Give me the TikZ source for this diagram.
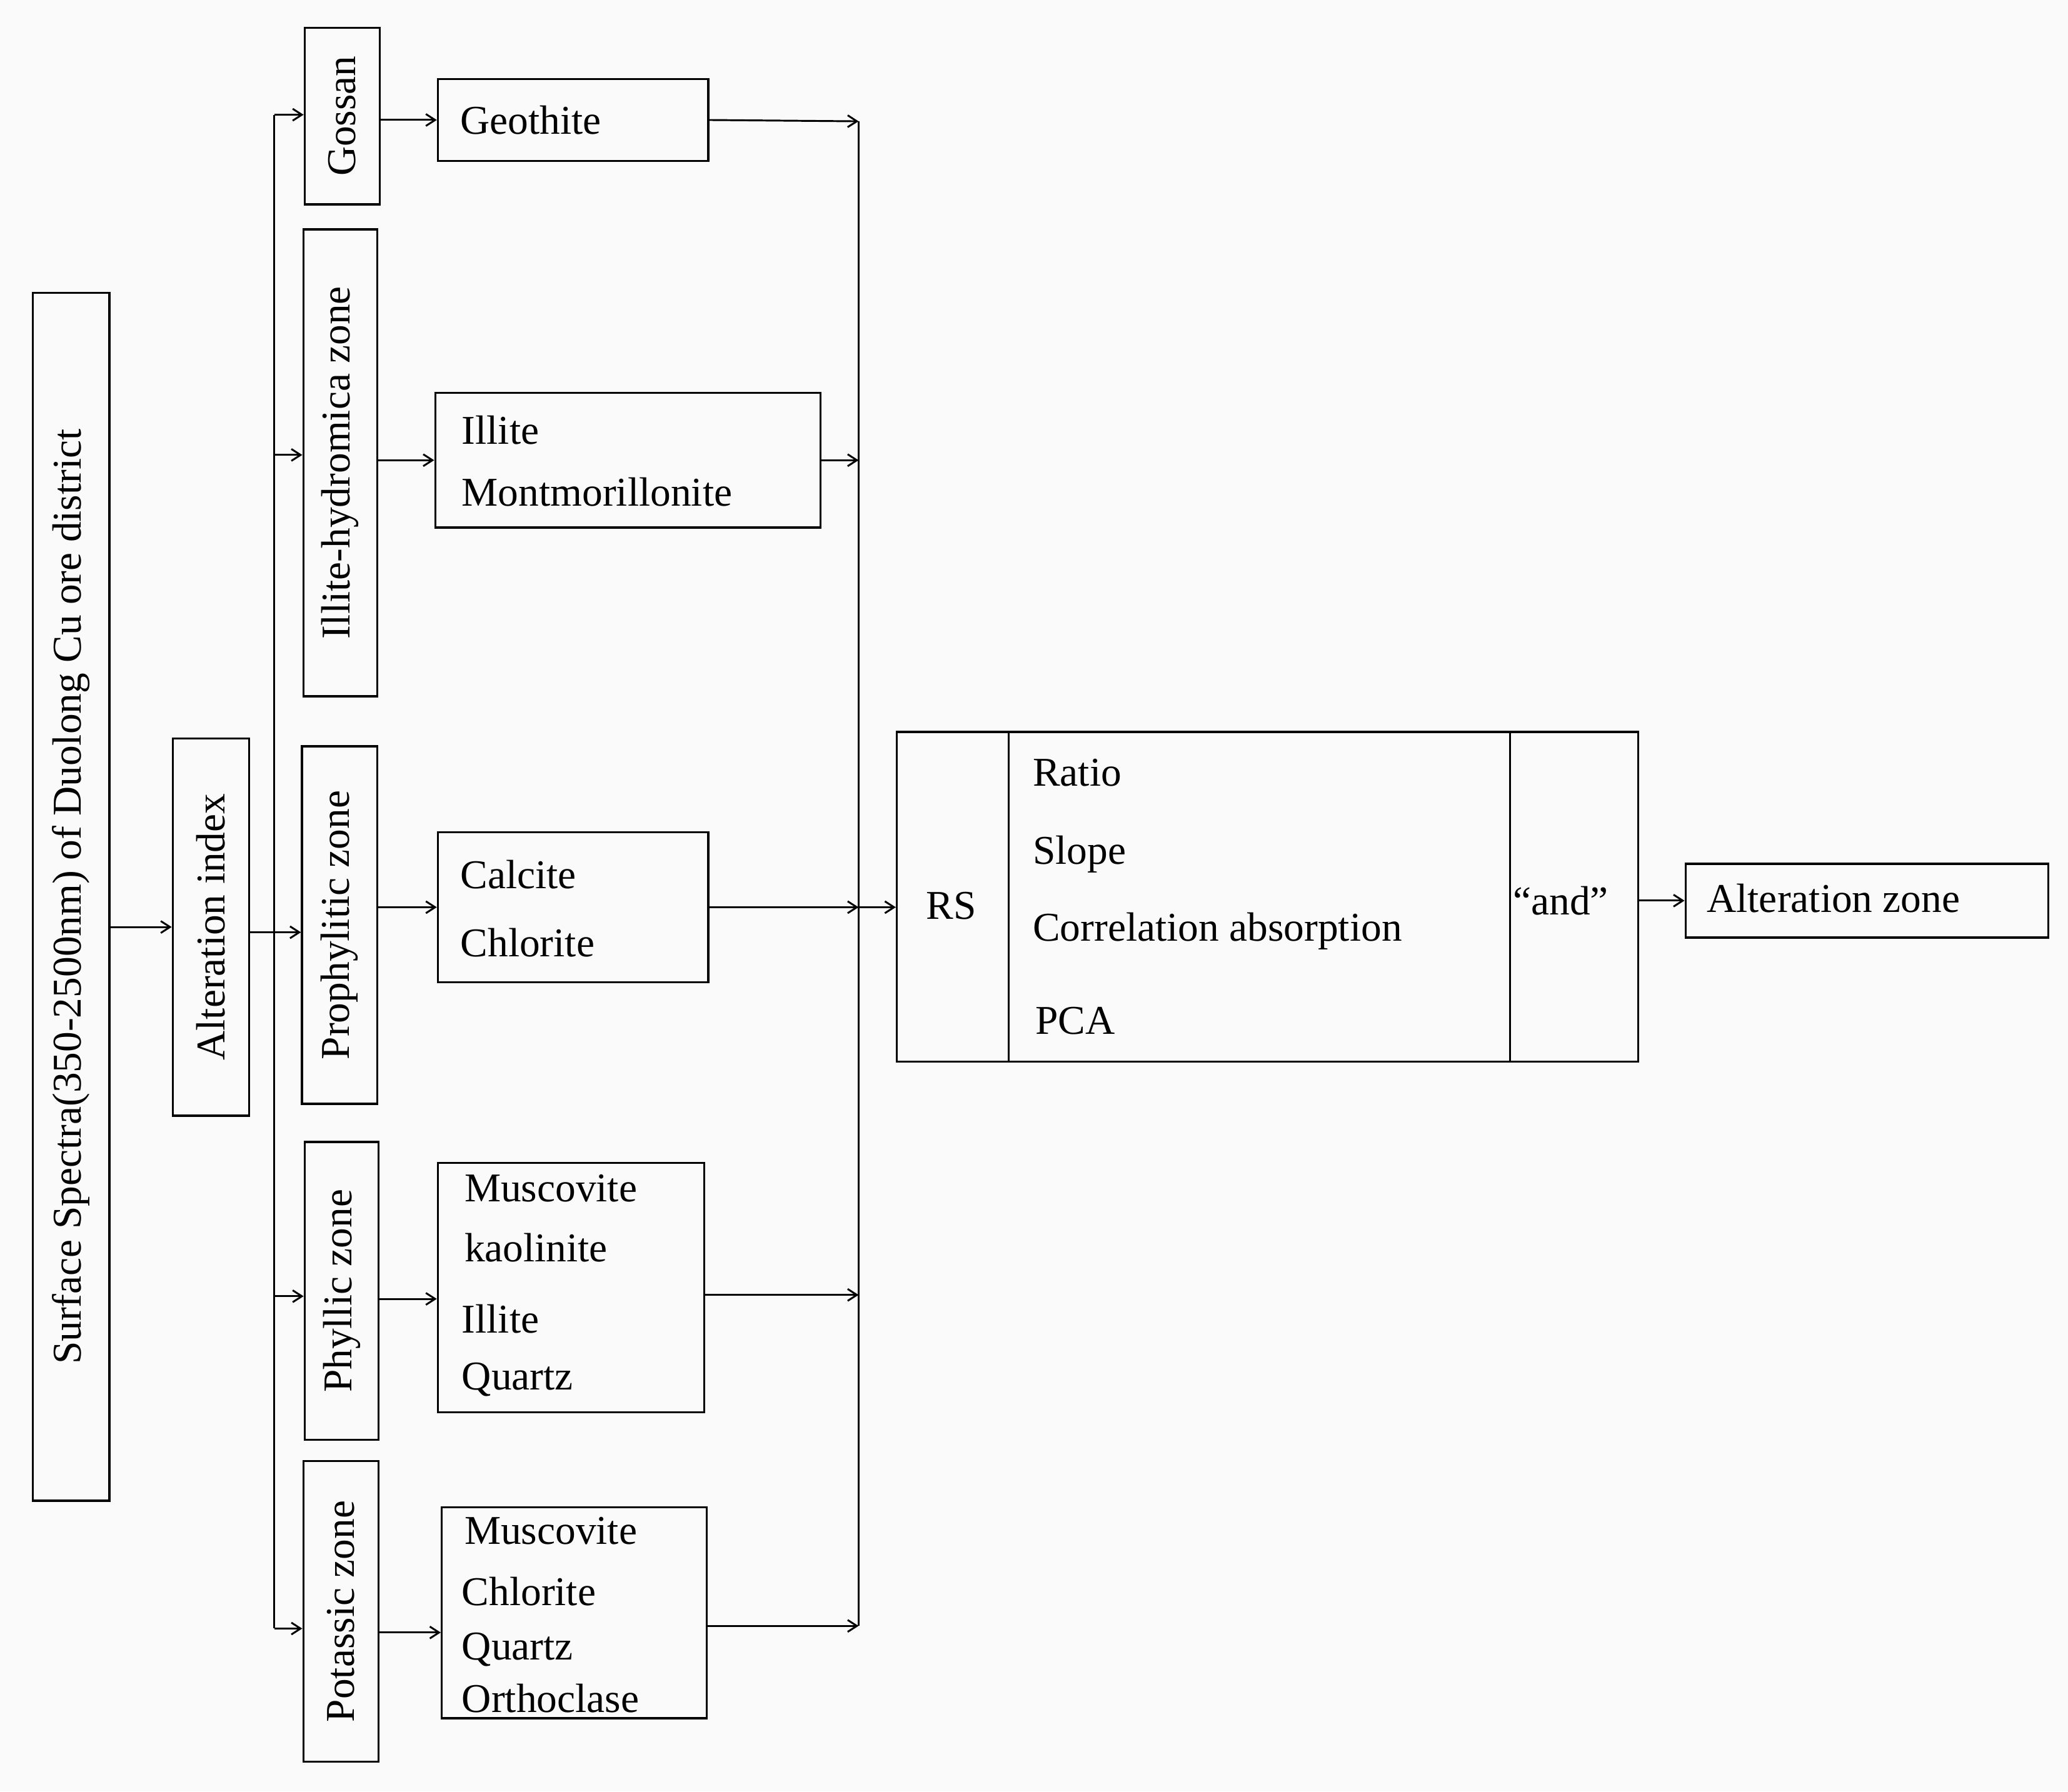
\documentclass[tikz,border=0pt]{standalone}
\usetikzlibrary{arrows.meta}
\usepackage{fontspec}
\setmainfont{Liberation Serif}
\begin{document}
\begin{tikzpicture}[x=1pt,y=-1pt,
  box/.style={draw,line width=1.6pt,inner sep=0pt},
  txt/.style={font=\fontsize{31}{36}\selectfont,inner sep=0pt,anchor=west},
  vtxt/.style={font=\fontsize{31}{36}\selectfont,inner sep=0pt,rotate=90},
  arr/.style={->,line width=1.4pt,>={Straight Barb[length=7pt,width=9pt]}},
  ln/.style={line width=1.4pt}]
\useasboundingbox[fill={rgb,255:red,250;green,250;blue,250}] (0,0) rectangle (1568,1358.5);
% left boxes
\node[box,minimum width=58,minimum height=916] (surf) at (54,680) {};
\node[vtxt] (surft) at (surf) {Surface Spectra(350-2500nm) of Duolong Cu ore district};
\node[box,minimum width=58,minimum height=286] (alt) at (160,703) {};
\node[vtxt] (altt) at (alt) {Alteration index};
\node[box,minimum width=57,minimum height=134] (gos) at (259.5,88) {};
\node[vtxt] (gost) at (gos) {Gossan};
\node[box,minimum width=56,minimum height=354] (ill) at (258,351) {};
\node[vtxt] (illt) at (ill) {Illite-hydromica zone};
\node[box,minimum width=57,minimum height=271] (pro) at (257.5,701.5) {};
\node[vtxt] (prot) at (pro) {Prophylitic zone};
\node[box,minimum width=56,minimum height=226] (phy) at (259,979) {};
\node[vtxt] (phyt) at (phy) {Phyllic zone};
\node[box,minimum width=57,minimum height=228] (pot) at (258.5,1222) {};
\node[vtxt] (pott) at (pot) {Potassic zone};
% mineral boxes
\node[box,minimum width=205,minimum height=62] (geo) at (434.5,91) {};
\node[txt] (geot) at (349,91) {Geothite};
\node[box,minimum width=292,minimum height=102] (im) at (476,349) {};
\node[txt] (im1) at (350,326) {Illite};
\node[txt] (im2) at (350,373) {Montmorillonite};
\node[box,minimum width=205,minimum height=114] (cc) at (434.5,688) {};
\node[txt] (cc1) at (349,663) {Calcite};
\node[txt] (cc2) at (349,715) {Chlorite};
\node[box,minimum width=202,minimum height=189] (mk) at (433,976.5) {};
\node[txt] (mk1) at (352,901) {Muscovite};
\node[txt] (mk2) at (352,946) {kaolinite};
\node[txt] (mk3) at (350,1000) {Illite};
\node[txt] (mk4) at (350,1046) {Quartz};
\node[box,minimum width=201,minimum height=160] (mc) at (435.5,1223) {};
\node[txt] (mc1) at (352,1161) {Muscovite};
\node[txt] (mc2) at (350,1207) {Chlorite};
\node[txt] (mc3) at (350,1251) {Quartz};
\node[txt] (mc4) at (350,1288) {Orthoclase};
% big box
\node[box,minimum width=562,minimum height=250] (big) at (961,680) {};
\coordinate (d1t) at (765,555); \coordinate (d1b) at (765,805);
\coordinate (d2t) at (1145,555); \coordinate (d2b) at (1145,805);
\draw[ln] (d1t) -- (d1b) (d2t) -- (d2b);
\node[txt] (rs) at (702,687) {RS};
\node[txt] (r1) at (783,586) {Ratio};
\node[txt] (r2) at (783,648) {Slope};
\node[txt] (r3) at (783,706) {Correlation absorption};
\node[txt] (r4) at (785,774) {PCA};
\node[txt] (and) at (1147,683) {“and”};
\node[box,minimum width=275,minimum height=56] (az) at (1415.5,683) {};
\node[txt] (azt) at (1294,681) {Alteration zone};
% connectors left
\draw[arr] (surf.east |- alt) -- (alt.west);
\coordinate (t0) at (208,707);
\coordinate (t1) at (208,87); \coordinate (t2) at (208,345);
\coordinate (t3) at (208,707); \coordinate (t4) at (208,983); \coordinate (t5) at (208,1235);
\draw[ln] (t1) -- (t5);
\draw[ln] (alt.east |- t0) -- (t0);
\draw[arr] (t1) -- (t1 -| gos.west);
\draw[arr] (t2) -- (t2 -| ill.west);
\draw[arr] (t3) -- (t3 -| pro.west);
\draw[arr] (t4) -- (t4 -| phy.west);
\draw[arr] (t5) -- (t5 -| pot.west);
\draw[arr] (gos.east |- geo) -- (geo.west);
\draw[arr] (ill.east |- im) -- (im.west);
\draw[arr] (pro.east |- cc) -- (cc.west);
\draw[arr] (phy.east |- 0,985) -- (mk.west |- 0,985);
\draw[arr] (pot.east |- 0,1238) -- (mc.west |- 0,1238);
% connectors right
\coordinate (s1) at (651,92); \coordinate (s2) at (651,349);
\coordinate (s3) at (651,688); \coordinate (s4) at (651,982); \coordinate (s5) at (651,1233);
\draw[ln] (s1) -- (s5);
\draw[arr] (geo.east) -- (s1);
\draw[arr] (im.east) -- (s2);
\draw[arr] (cc.east) -- (s3);
\draw[arr] (mk.east |- s4) -- (s4);
\draw[arr] (mc.east |- s5) -- (s5);
\draw[arr] (s3) -- (big.west |- s3);
\draw[arr] (big.east |- az) -- (az.west);
\end{tikzpicture}
\end{document}
